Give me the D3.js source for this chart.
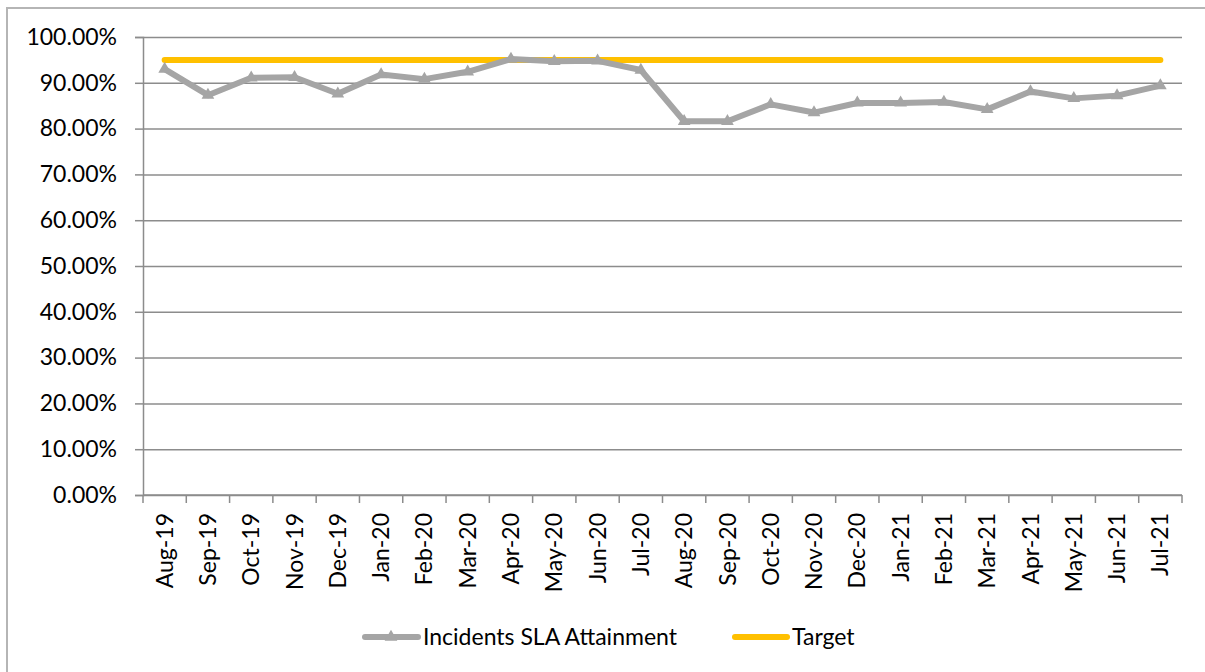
<!DOCTYPE html>
<html>
<head>
<meta charset="utf-8">
<script src="https://cdn.jsdelivr.net/npm/d3@7"></script>
<style>
  html, body { margin: 0; padding: 0; background: #ffffff; }
  svg { display: block; }
  text { font-family: Lato, "Open Sans", sans-serif; fill: #000; }
</style>
</head>
<body>
<svg id="chart" width="1205" height="672"></svg>
<script>
const categories = ["Aug-19","Sep-19","Oct-19","Nov-19","Dec-19","Jan-20","Feb-20","Mar-20","Apr-20","May-20","Jun-20","Jul-20",
  "Aug-20","Sep-20","Oct-20","Nov-20","Dec-20","Jan-21","Feb-21","Mar-21","Apr-21","May-21","Jun-21","Jul-21"];
const slaValues = [0.930, 0.873, 0.911, 0.912, 0.876, 0.918, 0.908, 0.924, 0.952, 0.947, 0.948, 0.928,
  0.816, 0.816, 0.853, 0.835, 0.856, 0.856, 0.858, 0.842, 0.881, 0.866, 0.872, 0.894];
const targetValues = categories.map(() => 0.95);
const yTicks = [0, 0.1, 0.2, 0.3, 0.4, 0.5, 0.6, 0.7, 0.8, 0.9, 1.0];
const seriesNames = ["Incidents SLA Attainment", "Target"];

const W = 1205, H = 672;
const margin = { top: 37, right: 23, bottom: 177, left: 143 };
const iw = W - margin.left - margin.right;
const ih = H - margin.top - margin.bottom;
const grey = "#A5A5A5", gold = "#FFC000", gridC = "#8C8C8C";

const svg = d3.select("#chart");

// chart border
svg.append("rect").attr("x", 7).attr("y", 8).attr("width", W).attr("height", H)
  .attr("fill", "none").attr("stroke", "#B5B5B5").attr("stroke-width", 2);

const g = svg.append("g").attr("transform", `translate(${margin.left},${margin.top})`);

const x = d3.scaleBand().domain(categories).range([0, iw]).padding(0);
const y = d3.scaleLinear().domain([0, 1]).range([ih, 0]);
const cx = d => x(d) + x.bandwidth() / 2;

// gridlines
const grid = g.append("g").call(d3.axisLeft(y).tickValues(yTicks).tickSize(-iw).tickFormat(""));
grid.select(".domain").remove();
grid.selectAll("line").attr("stroke", gridC).attr("stroke-width", 1.5);

// y axis
const yAx = g.append("g").call(d3.axisLeft(y).tickValues(yTicks).tickSize(8).tickPadding(18).tickFormat(d3.format(".2%")));
yAx.select(".domain").attr("stroke", gridC).attr("stroke-width", 1.5);
yAx.selectAll("line").attr("stroke", gridC).attr("stroke-width", 1.5);
yAx.selectAll("text").style("font-family", "Lato, sans-serif").style("font-size", "23px").attr("fill", "#000");

// x axis
const xAx = g.append("g").attr("transform", `translate(0,${ih})`);
xAx.append("line").attr("x1", 0).attr("x2", iw).attr("stroke", gridC).attr("stroke-width", 1.5);
const boundaries = categories.map(d => x(d)).concat([x(categories[categories.length - 1]) + x.bandwidth()]);
xAx.selectAll("line.tick").data(boundaries).join("line").attr("class", "tick")
  .attr("x1", d => d).attr("x2", d => d).attr("y1", 0).attr("y2", 8)
  .attr("stroke", gridC).attr("stroke-width", 1.5);
xAx.selectAll("text").data(categories).join("text")
  .attr("transform", d => `translate(${cx(d)},18) rotate(-90)`)
  .attr("text-anchor", "end").attr("dy", "0.35em")
  .style("font-size", "23px").text(d => d);

// target line
const line = d3.line().x((d, i) => cx(categories[i])).y(d => y(d));
g.append("path").datum(targetValues).attr("d", line)
  .attr("fill", "none").attr("stroke", gold).attr("stroke-width", 6).attr("stroke-linecap", "round");

// SLA series
g.append("path").datum(slaValues).attr("d", line)
  .attr("fill", "none").attr("stroke", grey).attr("stroke-width", 6)
  .attr("stroke-linejoin", "round").attr("stroke-linecap", "round");
const tri = d3.symbol().type(d3.symbolTriangle).size(70);
g.selectAll("path.mk").data(slaValues).join("path").attr("class", "mk")
  .attr("d", tri).attr("transform", (d, i) => `translate(${cx(categories[i])},${y(d)})`)
  .attr("fill", grey);

// legend
const lg = svg.append("g").attr("transform", "translate(0,637)");
lg.append("line").attr("x1", 365).attr("x2", 418).attr("stroke", grey).attr("stroke-width", 6).attr("stroke-linecap", "round");
lg.append("path").attr("d", tri).attr("transform", "translate(391,0)").attr("fill", grey);
lg.append("text").attr("x", 423).attr("dy", "0.35em").style("font-size", "23px").text(seriesNames[0]);
lg.append("line").attr("x1", 735).attr("x2", 787).attr("stroke", gold).attr("stroke-width", 6).attr("stroke-linecap", "round");
lg.append("text").attr("x", 792).attr("dy", "0.35em").style("font-size", "23px").text(seriesNames[1]);
</script>
</body>
</html>
